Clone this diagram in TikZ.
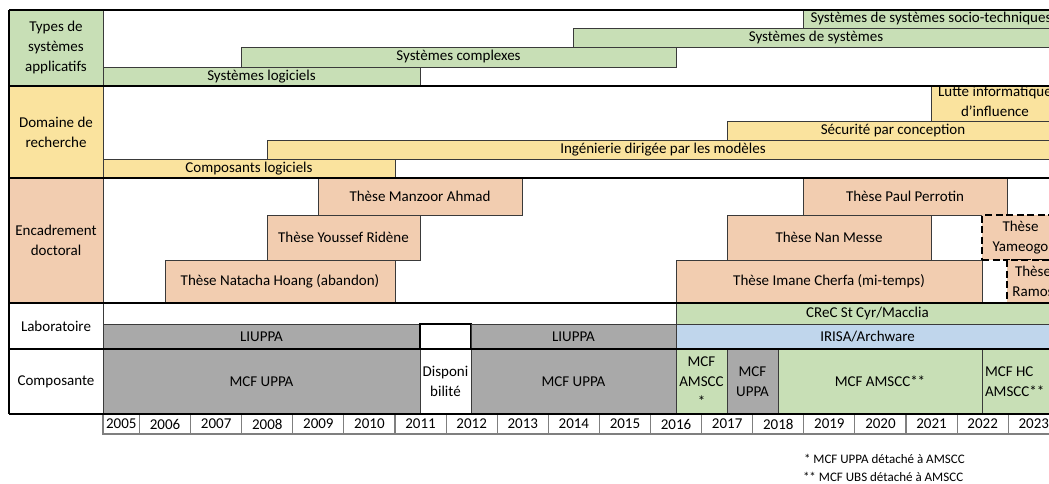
\documentclass[tikz,border=0pt]{standalone}
\usepackage{fontspec}
\setmainfont{Carlito}
\definecolor{lgreen}{HTML}{C8DFB6}
\definecolor{lyellow}{HTML}{FAE39E}
\definecolor{lpeach}{HTML}{F2CDB0}
\definecolor{lgray}{HTML}{A9A9A9}
\definecolor{lblue}{HTML}{C0D6EC}
\definecolor{edge}{HTML}{3A3A3A}
\definecolor{axisgray}{HTML}{7F7F7F}
% box of the timeline: name, x1, y1, x2, y2, style, text
\newcommand\chartbox[7]{%
  \node[#6, anchor=north west, minimum width={(#4)-(#2)}, minimum height={(#5)-(#3)}] (#1) at (#2,#3) {#7};}
\begin{document}
\begin{tikzpicture}[x=1pt, y=-1pt,
  every node/.style={font=\fontsize{15}{20}\selectfont, inner sep=0pt, outer sep=0pt},
  cell/.style={draw=edge, line width=0.9pt, align=center},
  gcell/.style={cell, fill=lgreen},
  ycell/.style={cell, fill=lyellow},
  pcell/.style={cell, fill=lpeach},
  grcell/.style={cell, fill=lgray},
  bcell/.style={cell, fill=lblue},
  wcell/.style={cell, fill=white},
  dcell/.style={cell, fill=lpeach, draw=black, line width=1.6pt, dash pattern=on 7pt off 3.5pt},
  axcell/.style={draw=axisgray, line width=1.1pt, fill=white, align=center},
  rule/.style={draw=black, line width=1.8pt},
  note/.style={font=\fontsize{13}{17}\selectfont, anchor=base west}]
\useasboundingbox (0,0) rectangle (1049,484);
\fill[white] (0,0) rectangle (1049,484);
\clip (0,0) rectangle (1049,484);

% row headers
\chartbox{hTypes}{9}{10}{103}{86}{gcell}{Types de\\systèmes\\applicatifs}
\chartbox{hDomaine}{9}{86}{103}{178}{ycell}{Domaine de\\recherche}
\chartbox{hEncadrement}{9}{178}{103}{303}{pcell}{Encadrement\\doctoral}
\chartbox{hLabo}{9}{303}{103}{349}{wcell}{Laboratoire}
\chartbox{hComposante}{9}{349}{103}{414}{wcell}{Composante}

% types of application systems
\chartbox{sLog}{103}{67}{420}{86}{gcell}{Systèmes logiciels}
\chartbox{sCompl}{241}{47}{676}{67}{gcell}{Systèmes complexes}
\chartbox{sSdS}{573}{28}{1059}{47}{gcell}{Systèmes de systèmes}
\chartbox{sSocio}{803}{10}{1059}{28}{gcell}{Systèmes de systèmes socio-techniques}

% research domains
\chartbox{dComp}{103}{159}{395}{178}{ycell}{Composants logiciels}
\chartbox{dIDM}{267}{140}{1059}{159}{ycell}{Ingénierie dirigée par les modèles}
\chartbox{dSec}{727}{121}{1059}{140}{ycell}{Sécurité par conception}
\chartbox{dLutte}{931}{86}{1059}{121}{ycell}{}
\begin{scope}
  \clip (931,86) rectangle (1059,121);
  \node[align=center] (dLutteText) at ([yshift=2.5pt]dLutte.center) {Lutte informatique\\d'influence};
\end{scope}

% PhD supervision
\chartbox{tManzoor}{318}{178}{522}{215}{pcell}{Thèse Manzoor Ahmad}
\chartbox{tYoussef}{267}{215}{420}{260}{pcell}{Thèse Youssef Ridène}
\chartbox{tNatacha}{165}{260}{395}{303}{pcell}{Thèse Natacha Hoang (abandon)}
\chartbox{tPaul}{803}{178}{1007}{215}{pcell}{Thèse Paul Perrotin}
\chartbox{tNan}{727}{215}{931}{260}{pcell}{Thèse Nan Messe}
\chartbox{tImane}{676}{260}{982}{303}{pcell}{Thèse Imane Cherfa (mi-temps)}
\chartbox{tYameogo}{982}{215}{1059}{260}{dcell}{Thèse\\Yameogo}
\chartbox{tRamos}{1007}{260}{1059}{303}{dcell}{Thèse\\Ramos}

% laboratories
\chartbox{lCrec}{676}{303}{1059}{324}{gcell}{CReC St Cyr/Macclia}
\chartbox{lLiuppaA}{103}{324}{420}{349}{grcell}{LIUPPA}
\chartbox{lGap}{420}{324}{471}{349}{wcell, draw=black, line width=1.8pt}{}
\chartbox{lLiuppaB}{471}{324}{676}{349}{grcell}{LIUPPA}
\chartbox{lIrisa}{676}{324}{1059}{349}{bcell}{IRISA/Archware}

% positions
\chartbox{cUppaA}{103}{349}{420}{414}{grcell}{MCF UPPA}
\chartbox{cDispo}{420}{349}{471}{414}{wcell}{Disponi\\bilité}
\chartbox{cUppaB}{471}{349}{676}{414}{grcell}{MCF UPPA}
\chartbox{cAmsccA}{676}{349}{727}{414}{gcell}{MCF\\AMSCC\\*}
\chartbox{cUppaC}{727}{349}{778}{414}{grcell}{MCF\\UPPA}
\chartbox{cAmsccB}{778}{349}{982}{414}{gcell}{MCF AMSCC**}
\chartbox{cAmsccHC}{982}{349}{1059}{414}{gcell}{}
\node[align=left, anchor=west] (cHCText) at ([xshift=3pt]cAmsccHC.west) {MCF HC\\AMSCC**};

% table rules
\draw[edge, line width=0.9pt] (hTypes.north east) -- (hComposante.south east);
\foreach \yy in {10,86,178,303,349,414}
  \draw[rule] (9,\yy) -- (1060,\yy);
\draw[rule] (hTypes.north west) -- (hComposante.south west);

% year axis
\chartbox{y2005}{103}{414}{139.5}{434}{axcell}{2005}
\foreach \i [evaluate=\i as \xa using 139.5+51.1*\i,
             evaluate=\i as \yr using int(2006+\i)] in {0,...,17}
  {\chartbox{y\yr}{\xa}{414}{\xa+51.1}{434}{axcell}{\yr}}
\draw[rule] (9,414) -- (1060,414);

% footnotes
\node[note] (n1) at (804,463.5) {* MCF UPPA détaché à AMSCC};
\node[note] (n2) at (803,481.5) {** MCF UBS détaché à AMSCC};
\end{tikzpicture}
\end{document}
